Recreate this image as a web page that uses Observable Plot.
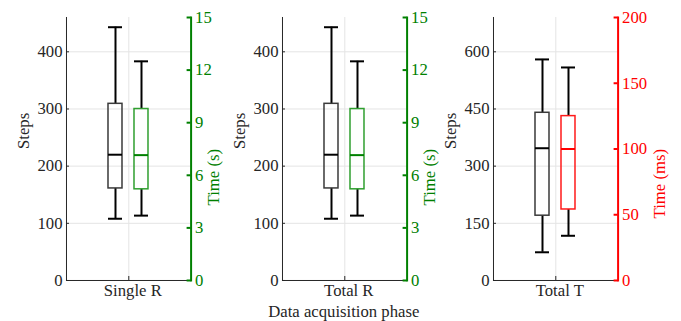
<!DOCTYPE html>
<html>
<head>
<meta charset="utf-8">
<script src="https://cdn.jsdelivr.net/npm/d3@7"></script>
<script src="https://cdn.jsdelivr.net/npm/@observablehq/plot@0.6"></script>
<style>
  html, body { margin: 0; padding: 0; background: #fff; }
  #fig { position: relative; width: 681px; height: 321px; overflow: hidden; background: #fff;
         font-family: "Liberation Serif", "Times New Roman", serif; }
  #fig svg { position: absolute; top: 0; }
</style>
</head>
<body>
<div id="fig"></div>
<script>
// Data acquisition phases, one panel each
const phases = ["Single R", "Total R", "Total T"];

// Box statistics per phase: [lower whisker, Q1, median, Q3, upper whisker]
const stepStats = [
  [108, 161, 220, 309, 443],
  [108, 161, 220, 309, 443],
  [74, 170, 347, 440, 580]
];
const timeStats = [
  [3.7, 5.2, 7.15, 9.78, 12.5],
  [3.7, 5.2, 7.15, 9.78, 12.5],
  [34, 54, 100, 125, 162]
];

// Axis extents and tick values
const stepMax = [460, 460, 690];
const stepTicks = [
  [0, 100, 200, 300, 400],
  [0, 100, 200, 300, 400],
  [0, 150, 300, 450, 600]
];
const timeMax = [15, 15, 200];
const timeTicks = [
  [0, 3, 6, 9, 12, 15],
  [0, 3, 6, 9, 12, 15],
  [0, 50, 100, 150, 200]
];
const stepLabel = "Steps";
const timeLabels = ["Time (s)", "Time (s)", "Time (ms)"];
const xLabel = "Data acquisition phase";

// Styling
const ink = "#262626";
const gridColor = "#e4e4e4";
const timeColors = ["#008000", "#008000", "#ff0000"];
const timeBoxColors = ["#2f9f2f", "#2f9f2f", "#ff1a1a"];
const panelLeft = [0, 215.7, 427.3];
const ML = 66, MR = 62, MT = 17, MB = 41, FW = 124.6, H = 321;
const FH = H - MT - MB;
const rightLabelDx = [22.5, 22.5, 42];
const serif = '"Liberation Serif", "Times New Roman", serif';

const fig = document.getElementById("fig");

phases.forEach((phase, i) => {
  // time is drawn on the steps scale, scaled so both axes share the frame
  const k = stepMax[i] / timeMax[i];
  const keys = ["lo", "q1", "med", "q3", "hi"];
  const toRow = (series, vals, f, box, mid) => {
    const r = {series, box, mid};
    keys.forEach((key, j) => r[key] = vals[j] * f);
    return r;
  };
  const rows = [
    toRow("Steps", stepStats[i], 1, "#3a3a3a", "#000"),
    toRow("Time", timeStats[i], k, timeBoxColors[i], timeColors[i])
  ];

  const txt = {fontFamily: serif, lineAnchor: "middle"};

  const chart = Plot.plot({
    width: ML + FW + MR,
    height: H,
    marginLeft: ML, marginRight: MR, marginTop: MT, marginBottom: MB,
    style: {fontFamily: serif, fontSize: "16.7px", color: ink, background: "transparent", overflow: "visible"},
    x: {type: "band", domain: ["Steps", "Time"], paddingInner: 0.46, paddingOuter: 1.625, axis: null},
    y: {domain: [0, stepMax[i]], axis: null},
    marks: [
      // grid
      Plot.ruleY(stepTicks[i], {y: d => d, stroke: gridColor}),
      Plot.ruleX([0], {x: null, stroke: gridColor}),
      // whiskers and caps
      Plot.ruleX(rows, {x: "series", y1: "lo", y2: "q1", stroke: "#000", strokeWidth: 2}),
      Plot.ruleX(rows, {x: "series", y1: "q3", y2: "hi", stroke: "#000", strokeWidth: 2}),
      Plot.tickY(rows, {x: "series", y: "lo", stroke: "#000", strokeWidth: 2}),
      Plot.tickY(rows, {x: "series", y: "hi", stroke: "#000", strokeWidth: 2}),
      // boxes and medians
      Plot.barY(rows, {x: "series", y1: "q1", y2: "q3", fill: "none", stroke: "box", strokeWidth: 1.5}),
      Plot.tickY(rows, {x: "series", y: "med", stroke: "mid", strokeWidth: 2}),
      // left (steps) axis
      Plot.frame({anchor: "left", stroke: ink}),
      Plot.frame({anchor: "bottom", stroke: ink}),
      Plot.tickY(stepTicks[i], {y: d => d, insetRight: FW - 3, stroke: ink}),
      Plot.text(stepTicks[i], {...txt, y: d => d, text: d => String(d), frameAnchor: "left", textAnchor: "end", dx: -4, fill: ink}),
      Plot.text([stepLabel], {...txt, frameAnchor: "left", rotate: -90, dx: -43, fill: ink}),
      // right (time) axis
      Plot.frame({anchor: "right", stroke: timeColors[i], strokeWidth: 2}),
      Plot.tickY(timeTicks[i], {y: d => d * k, insetLeft: FW - 4, stroke: timeColors[i], strokeWidth: 2}),
      Plot.text(timeTicks[i], {...txt, y: d => d * k, text: d => String(d), frameAnchor: "right", textAnchor: "start", dx: 4, fill: timeColors[i]}),
      Plot.text([timeLabels[i]], {...txt, frameAnchor: "right", rotate: -90, dx: rightLabelDx[i], fill: timeColors[i]}),
      // phase tick and label
      Plot.ruleX([0], {x: null, insetTop: FH - 4, stroke: ink}),
      Plot.text([phase], {...txt, frameAnchor: "bottom", dy: 10.5, dx: 4, fill: ink}),
      ...(i === 1 ? [Plot.text([xLabel], {...txt, frameAnchor: "bottom", dy: 31.5, dx: -1, fill: ink})] : [])
    ]
  });
  chart.style.left = panelLeft[i] + "px";
  fig.appendChild(chart);
});
</script>
</body>
</html>
